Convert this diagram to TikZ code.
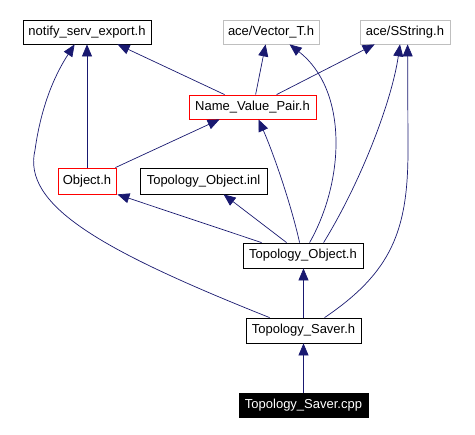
\documentclass[tikz,border=0pt]{standalone}
\usepackage{fontspec}
\setmainfont{Liberation Sans}
\usetikzlibrary{arrows.meta,calc}
\definecolor{edgec}{RGB}{25,25,112}
\definecolor{grayb}{RGB}{191,191,191}
\begin{document}
\begin{tikzpicture}[x=1pt,y=-1pt,
  box/.style={draw=black,line width=0.8pt,inner sep=0pt,minimum height=24pt,font=\fontsize{13}{14}\selectfont,fill=white},
  redbox/.style={box,draw=red},
  graybox/.style={box,draw=grayb},
  darkbox/.style={box,fill=black,text=white},
  edge/.style={draw=edgec,line width=0.7pt,-{Triangle[length=12pt,width=10pt]}}]
\useasboundingbox (0,0) rectangle (475,435);
\node[box,minimum width=128pt] (nse) at (87,32) {notify\_serv\_export.h};
\node[graybox,minimum width=96pt] (vt) at (271,32) {ace/Vector\_T.h};
\node[graybox,minimum width=90pt] (ss) at (405,32) {ace/SString.h};
\node[redbox,minimum width=127pt] (nvp) at (252.5,107) {Name\_Value\_Pair.h};
\node[redbox,minimum width=58pt,minimum height=26pt] (obj) at (87,181) {Object.h};
\node[box,minimum width=127pt,minimum height=26pt] (toi) at (203.5,181) {Topology\_Object.inl};
\node[box,minimum width=120pt,minimum height=25pt] (toh) at (303,255.5) {Topology\_Object.h};
\node[box,minimum width=115pt,minimum height=25pt] (tsh) at (303.5,330.5) {Topology\_Saver.h};
\node[darkbox,minimum width=129pt] (cpp) at (303.5,405) {Topology\_Saver.cpp};
% edges
\draw[edge] ([xshift=36pt]nvp.north west) -- ([xshift=95pt]nse.south west);
\draw[edge] ([xshift=67pt]nvp.north west) -- ([xshift=43pt]vt.south west);
\draw[edge] ([xshift=88pt]nvp.north west) -- ([xshift=15pt]ss.south west);
\draw[edge] (obj.north) -- (obj.north |- nse.south);
\draw[edge] ([xshift=-1pt]obj.north east) -- ([xshift=31pt]nvp.south west);
\draw[edge] ([xshift=19pt]toh.north west) -- ([xshift=1pt]obj.south east);
\draw[edge] ([xshift=44pt]toh.north west) -- ([xshift=84pt]toi.south west);
\draw[edge] ([xshift=57pt]toh.north west) .. controls (290,200) and (272,150) .. ([xshift=6pt]nvp.south);
\draw[edge] ([xshift=67pt]toh.north west) .. controls (345,180) and (348,90) .. ([xshift=67pt]vt.south west);
\draw[edge] ([xshift=81pt]toh.north west) .. controls (362,180) and (392,100) .. ([xshift=-5pt]ss.south);
\draw[edge] (tsh.north) -- (tsh.north |- toh.south);
\draw[edge] ([xshift=24pt]tsh.north west) .. controls (100,250) and (22,205) .. (35,150) .. controls (42,100) and (58,70) .. ([xshift=52pt]nse.south west);
\draw[edge] ([xshift=79pt]tsh.north west) .. controls (392,272) and (408,230) .. (408,150) -- ([xshift=48pt]ss.south west);
\draw[edge] (cpp.north) -- (cpp.north |- tsh.south);
\end{tikzpicture}
\end{document}
